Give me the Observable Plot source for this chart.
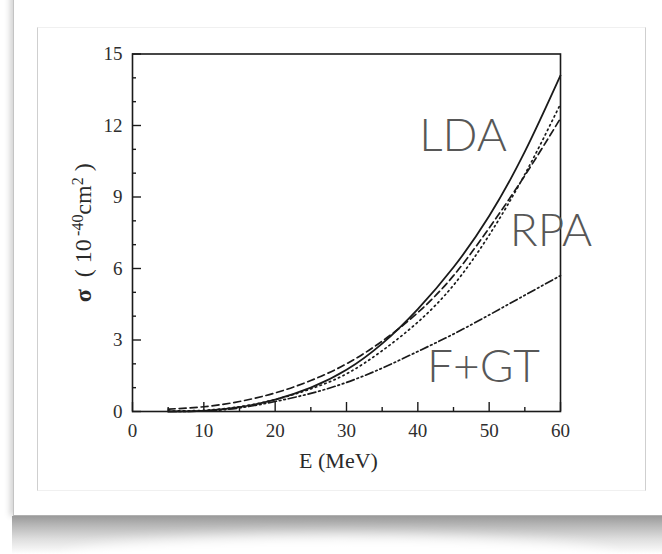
<!DOCTYPE html>
<html>
<head>
<meta charset="utf-8">
<script src="https://cdn.jsdelivr.net/npm/d3@7"></script>
<script src="https://cdn.jsdelivr.net/npm/@observablehq/plot@0.6"></script>
<style>
  html, body { margin: 0; padding: 0; background: #fff; width: 662px; height: 554px; overflow: hidden; }
  #panel { position: absolute; left: 13px; top: -20px; width: 700px; height: 535px; background: #fff;
           border-left: 1px solid #c4c4c4; border-bottom: 1px solid #b0b0b0;
           box-shadow: -3px 0 6px rgba(0,0,0,0.18); }
  #shadow { position: absolute; left: 12px; top: 516px; width: 660px; height: 38px;
            background: linear-gradient(to bottom, #9a9a9a 0%, #b8b8b8 25%, #dedede 60%, #fafafa 95%, #fff 100%); }
  #shadowcut { position: absolute; left: 60px; top: 536px; width: 560px; height: 50px; background: #fff;
               border-radius: 50%; filter: blur(7px); }
  #card { position: absolute; left: 37px; top: 27px; width: 607px; height: 462px; background: #fff;
          border-left: 1px solid #cfcfcf; border-right: 1px solid #cfcfcf;
          border-top: 1px solid #f0f0f0; border-bottom: 1px solid #f0f0f0; }
  #card svg { display: block; }
</style>
</head>
<body>
<div id="panel"></div>
<div id="shadow"></div>
<div id="shadowcut"></div>
<div id="card"></div>
<script>
// Energies (MeV)
const energy = [5, 10, 15, 20, 25, 30, 35, 40, 45, 50, 55, 60];
// Cross sections (10^-40 cm^2)
const ldaSolid   = [0.00, 0.03, 0.18, 0.50, 1.00, 1.75, 2.85, 4.30, 6.05, 8.20, 10.90, 14.10];
const rpaDashed  = [0.10, 0.20, 0.42, 0.78, 1.30, 2.00, 2.95, 4.15, 5.70, 7.70, 9.90, 12.30];
const rpaDotted  = [0.02, 0.05, 0.20, 0.50, 0.95, 1.58, 2.55, 3.75, 5.30, 7.40, 9.95, 12.90];
const fgtDashDot = [0.00, 0.02, 0.15, 0.42, 0.76, 1.22, 1.82, 2.52, 3.25, 4.05, 4.88, 5.70];

const xMajor = [0, 10, 20, 30, 40, 50, 60];
const xMinor = [5, 15, 25, 35, 45, 55];
const yMajor = [0, 3, 6, 9, 12, 15];
const yMinor = [1, 2, 4, 5, 7, 8, 10, 11, 13, 14];

const labelNames = ["LDA", "RPA", "F+GT"];
const labelE     = [40.2, 52.9, 41.3];
const labelSigma = [12.3, 8.3, 2.62];

const series = [
  {values: ldaSolid, dash: null, width: 1.8},
  {values: rpaDashed, dash: "7,4", width: 1.7},
  {values: rpaDotted, dash: "1.4,3.6", width: 1.7},
  {values: fgtDashDot, dash: "8,3,1.6,3,1.6,3", width: 1.7}
];

const lineMarks = series.map(s => Plot.line(energy.map((e, i) => ({e, v: s.values[i]})), {
  x: "e", y: "v", curve: "natural", stroke: "#1a1a1a", strokeWidth: s.width,
  strokeDasharray: s.dash
}));

const labels = labelNames.map((t, i) => ({t, e: labelE[i], s: labelSigma[i]}));

const serif = "'Liberation Serif', 'Times New Roman', serif";

const chart = Plot.plot({
  width: 607, height: 462,
  marginLeft: 94, marginRight: 85, marginTop: 25.5, marginBottom: 79,
  style: {fontFamily: serif, color: "#2a2a2a", background: "transparent", overflow: "visible"},
  x: {domain: [0, 60], label: null},
  y: {domain: [0, 15], label: null},
  marks: [
    ...lineMarks,
    Plot.frame({stroke: "#1a1a1a", strokeWidth: 1.6}),
    Plot.axisX(xMajor, {tickSize: -9, text: null, label: null, stroke: "#1a1a1a", strokeWidth: 1.4}),
    Plot.axisX(xMinor, {tickSize: -4, text: null, label: null, stroke: "#1a1a1a", strokeWidth: 1.4}),
    Plot.axisY(yMajor, {tickSize: -9, text: null, label: null, stroke: "#1a1a1a", strokeWidth: 1.4}),
    Plot.axisY(yMinor, {tickSize: -4, text: null, label: null, stroke: "#1a1a1a", strokeWidth: 1.4}),
    Plot.axisX(xMajor, {tickSize: 0, tickPadding: 12, fontSize: 19, label: null, fill: "#2e2e2e"}),
    Plot.axisY(yMajor, {tickSize: 0, tickPadding: 10, fontSize: 19, label: null, fill: "#2e2e2e"}),
    Plot.text(["E (MeV)"], {frameAnchor: "bottom", lineAnchor: "top", dx: -8, dy: 41, fontSize: 22, fill: "#2a2a2a"}),
    Plot.text(["σ"], {frameAnchor: "left", rotate: -90, dx: -49, fontSize: 24, fill: "#2a2a2a", className: "ylab"}),
    Plot.text(labels, {x: "e", y: "s", text: "t", textAnchor: "start", lineAnchor: "top",
      fontFamily: "Lato, 'Open Sans', sans-serif", fontWeight: 300, fontSize: 46, fill: "#575757"})
  ]
});

document.getElementById("card").appendChild(chart);

// Build the y-axis label with superscripts
const yl = chart.querySelector(".ylab text");
if (yl) {
  yl.textContent = "";
  yl.setAttribute("text-anchor", "middle");
  const parts = [
    ["σ", null, "bold"],
    ["\u00a0\u00a0(\u00a010", null, null],
    ["\u2009-40", "super", null],
    ["cm", null, null],
    ["2", "super", null],
    ["\u00a0)", null, null]
  ];
  for (const [t, sh, w] of parts) {
    const ts = document.createElementNS("http://www.w3.org/2000/svg", "tspan");
    ts.textContent = t;
    if (sh) { ts.setAttribute("baseline-shift", "super"); ts.setAttribute("font-size", "16"); }
    if (w) ts.setAttribute("font-weight", w);
    yl.appendChild(ts);
  }
}
</script>
</body>
</html>
